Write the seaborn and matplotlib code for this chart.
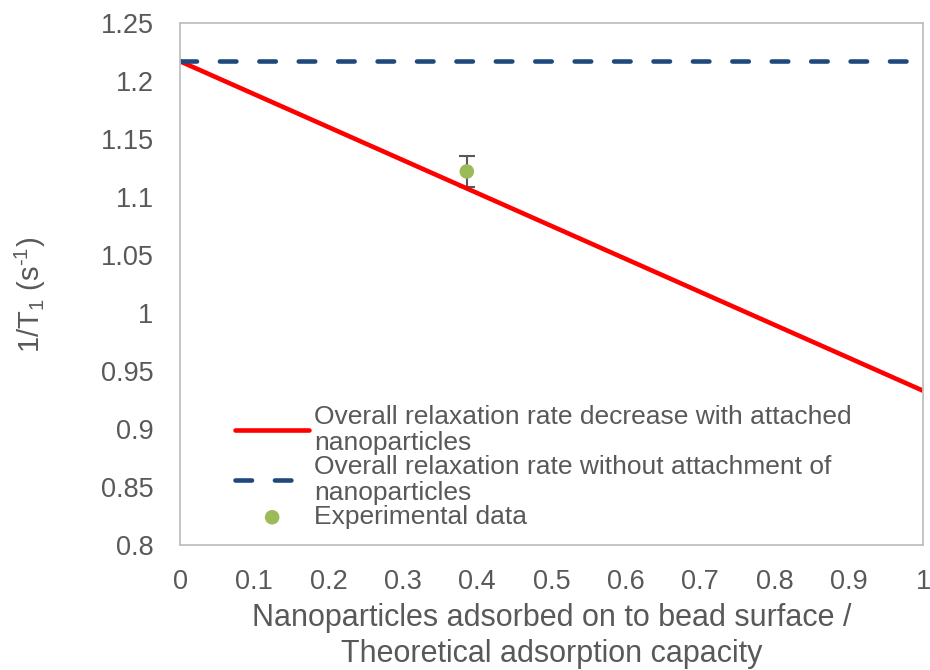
import matplotlib
matplotlib.use("Agg")
import matplotlib.pyplot as plt
import seaborn as sns

# Model lines and measured point
coverage = [0.0, 1.0]
rate_with_np = [1.217, 0.933]
rate_without_np = [1.217, 1.217]
exp_x = [0.386]
exp_y = [1.122]
exp_err = [0.013]

x_ticks = [0, 0.1, 0.2, 0.3, 0.4, 0.5, 0.6, 0.7, 0.8, 0.9, 1]
x_tick_labels = ["0", "0.1", "0.2", "0.3", "0.4", "0.5", "0.6", "0.7", "0.8", "0.9", "1"]
y_ticks = [0.8, 0.85, 0.9, 0.95, 1.0, 1.05, 1.1, 1.15, 1.2, 1.25]
y_tick_labels = ["0.8", "0.85", "0.9", "0.95", "1", "1.05", "1.1", "1.15", "1.2", "1.25"]

sns.set_theme(style="white")
plt.rcParams["font.family"] = ["Liberation Sans", "DejaVu Sans"]
plt.rcParams["mathtext.fontset"] = "custom"
plt.rcParams["mathtext.rm"] = "Liberation Sans"
text_color = "#595959"

fig = plt.figure(figsize=(9.3, 6.7), dpi=100)
ax = fig.add_axes([180 / 930, 1 - 545 / 670, (923 - 180) / 930, (545 - 23) / 670])

sns.lineplot(x=coverage, y=rate_with_np, ax=ax, color="#FF0000", linewidth=3.3,
             label="Overall relaxation rate decrease with attached\nnanoparticles")
line_b = sns.lineplot(x=coverage, y=rate_without_np, ax=ax, color="#1F497D", linewidth=3.3,
                      label="Overall relaxation rate without attachment of\nnanoparticles").lines[-1]
line_b.set_dashes((3.6, 5.0))
line_b.set_dash_capstyle("round")
ax.errorbar(exp_x, exp_y, yerr=exp_err, fmt="none", ecolor="#595959", elinewidth=1.5,
            capsize=6, capthick=1.5, zorder=1)
sns.scatterplot(x=exp_x, y=exp_y, ax=ax, color="#9BBB59", s=110, edgecolor="none",
                zorder=3, label="Experimental data")

ax.set_xlim(0, 1)
ax.set_ylim(0.8, 1.25)
ax.set_xticks(x_ticks)
ax.set_xticklabels(x_tick_labels)
ax.set_yticks(y_ticks)
ax.set_yticklabels(y_tick_labels)
ax.tick_params(axis="both", length=0, labelsize=19.5, labelcolor=text_color)
ax.tick_params(axis="x", pad=17)
ax.tick_params(axis="y", pad=19)

for side in ["left", "right", "top", "bottom"]:
    ax.spines[side].set_visible(True)
    ax.spines[side].set_color("#BFBFBF")
    ax.spines[side].set_linewidth(1.3)

ax.set_xlabel("Nanoparticles adsorbed on to bead surface /\nTheoretical adsorption capacity",
              fontsize=22, color=text_color, labelpad=6, linespacing=1.25)
ax.set_ylabel("1/T$_\\mathregular{1}$ (s$^\\mathregular{\u20101}$)",
              fontsize=21, color=text_color)
ax.yaxis.set_label_coords(-(180 - 48) / 743, 0.479)

leg = ax.legend(loc="lower left", bbox_to_anchor=(0.053, 0.0), frameon=False,
                fontsize=19, handlelength=2.8, handletextpad=0.2, labelspacing=0.0,
                borderaxespad=0.2)
for t in leg.get_texts():
    t.set_color(text_color)
    t.set_linespacing(1.12)

fig.savefig("out.png", dpi=100, facecolor="white")
